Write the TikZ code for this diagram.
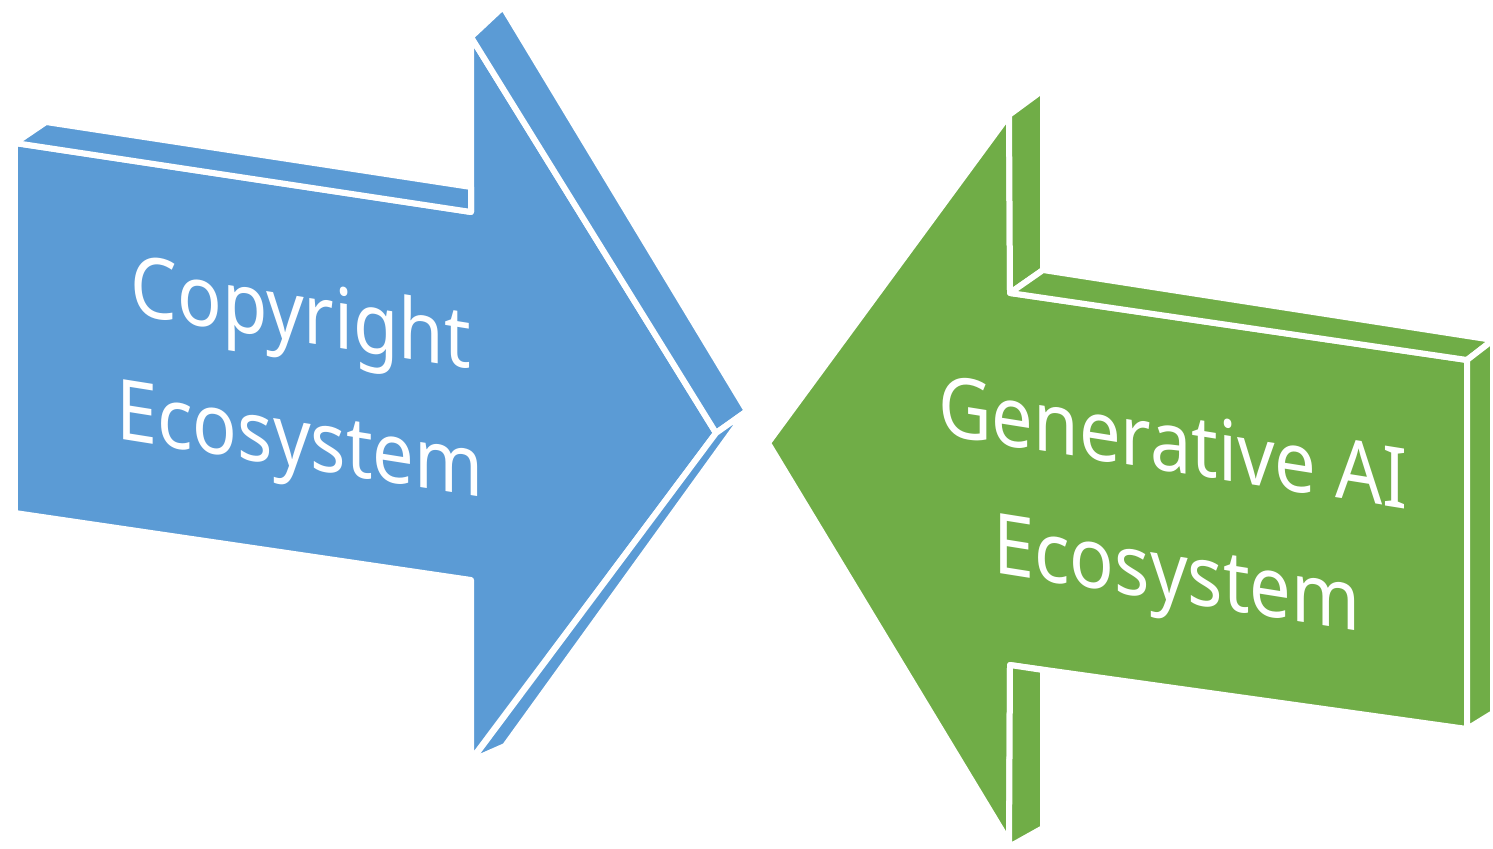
\documentclass[tikz,border=0pt]{standalone}
\usepackage{fontspec}
\setmainfont{Noto Sans}
\definecolor{arrblue}{HTML}{5B9BD5}
\definecolor{arrgreen}{HTML}{70AD47}
\begin{document}
\begin{tikzpicture}[x=0.02cm,y=-0.02cm,
  bluefc/.style={fill=arrblue,draw=white,line width=0.12cm,line join=round},
  greenfc/.style={fill=arrgreen,draw=white,line width=0.12cm,line join=round},
  lbl/.style={text=white,inner sep=0pt,anchor=base,font=\fontsize{47.8}{57}\selectfont,xscale=0.88,yslant=-0.14}]
\useasboundingbox (0,0) rectangle (1493,848);
% blue arrow
\draw[bluefc] (15,143)--(471,212)--(471,37)--(716,433)--(471,760)--(471,580)--(15,513)--cycle;
\draw[bluefc] (15,143)--(46,122)--(471,187)--(471,212)--cycle;
\draw[bluefc] (471,37)--(503,7)--(747,411)--(716,433)--cycle;
\draw[bluefc] (716,433)--(747,411)--(505,746)--(471,761)--cycle;
% green arrow
\draw[greenfc] (768,443)--(1009,115)--(1010,293)--(1467,360)--(1467,729)--(1010,665)--(1009,842)--cycle;
\draw[greenfc] (1009,115)--(1043,90)--(1043,270)--(1010,293)--cycle;
\draw[greenfc] (1010,293)--(1043,270)--(1493,340)--(1467,360)--cycle;
\draw[greenfc] (1467,360)--(1493,340)--(1493,713)--(1467,729)--cycle;
\draw[greenfc] (1010,665)--(1043,670)--(1043,828)--(1009,847)--cycle;
% labels
\node[lbl] (c1) at (301,342) {Copyright};
\node[lbl] (c2) at (300,468) {Ecosystem};
\node[lbl] (g1) at (1173,472) {Generative AI};
\node[lbl] (g2) at (1177,602) {Ecosystem};
\end{tikzpicture}
\end{document}
